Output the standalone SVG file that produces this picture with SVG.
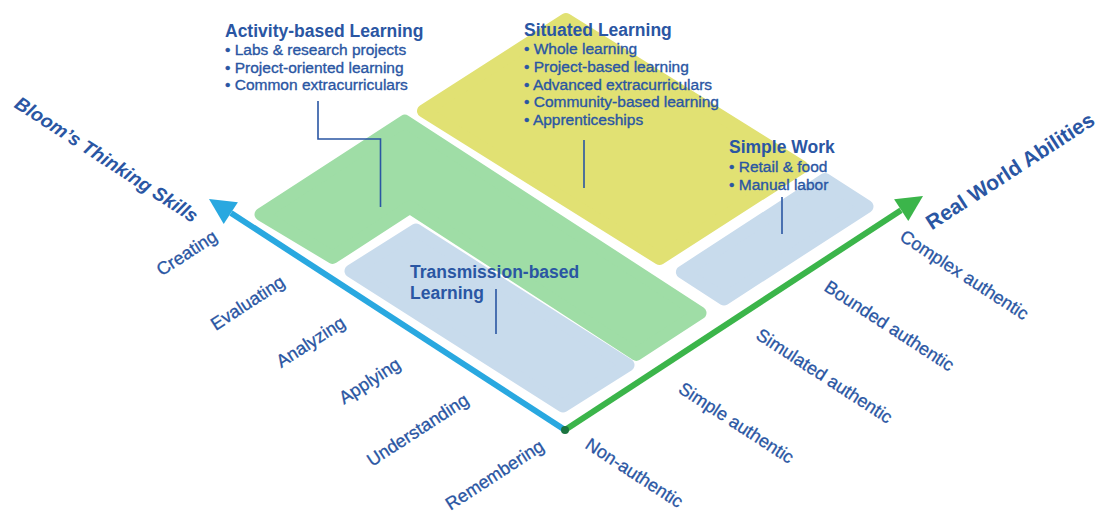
<svg xmlns="http://www.w3.org/2000/svg" width="1098" height="513" viewBox="0 0 1098 513">
<style>
.t{font-family:"Liberation Sans",Arial,sans-serif;fill:#2a56a3}
.h{font-size:17.5px;font-weight:bold}
.i{font-size:15.5px;stroke:#2a56a3;stroke-width:0.35}
.ax{font-size:18px;text-anchor:middle;stroke:#2a56a3;stroke-width:0.3}
.at{font-size:20px;font-weight:bold;text-anchor:middle}
.shape{stroke-linejoin:round;stroke-width:13}
.lead{fill:none;stroke:#2a56a3;stroke-width:1.6}
</style>
<rect width="1098" height="513" fill="#ffffff"/>
<g id="situated">
<polygon class="shape" fill="#e1e173" stroke="#e1e173" points="566,19.5 802,167 659.5,258.5 423.5,111"/>
<text class="t h" x="524" y="36">Situated Learning</text>
<text class="t i" x="524" y="54">• Whole learning</text>
<text class="t i" x="524" y="72">• Project-based learning</text>
<text class="t i" x="524" y="89.5">• Advanced extracurriculars</text>
<text class="t i" x="524" y="107">• Community-based learning</text>
<text class="t i" x="524" y="125">• Apprenticeships</text>
</g>
<g id="activity">
<polygon class="shape" fill="#9fdda6" stroke="#9fdda6" points="404.8,121.2 700,312.9 636.3,354.3 409.8,207.3 332.7,257.4 261,214.5"/>
<text class="t h" x="225" y="37">Activity-based Learning</text>
<text class="t i" x="225" y="55">• Labs &amp; research projects</text>
<text class="t i" x="225" y="72.5">• Project-oriented learning</text>
<text class="t i" x="225" y="90">• Common extracurriculars</text>
</g>
<g id="transmission">
<polygon class="shape" fill="#c8dbec" stroke="#c8dbec" points="416,230 628,365 563,406 351,271"/>
<text class="t h" x="410" y="278">Transmission-based</text>
<text class="t h" x="410" y="299">Learning</text>
</g>
<g id="simplework">
<polygon class="shape" fill="#c8dbec" stroke="#c8dbec" points="825,179.5 867,206.5 724,299 682.4,272.1"/>
<text class="t h" x="729" y="153">Simple Work</text>
<text class="t i" x="729" y="171.5">• Retail &amp; food</text>
<text class="t i" x="729" y="189.5">• Manual labor</text>
</g>
<g id="connectors">
<polyline class="lead" points="318,101 318,139 380.5,139 380.5,207"/>
<line class="lead" x1="584" y1="140" x2="584" y2="188"/>
<line class="lead" x1="782" y1="197" x2="782" y2="234"/>
<line class="lead" x1="496" y1="289" x2="496" y2="334"/>
</g>
<g id="axis-bloom">
<line x1="565" y1="430" x2="231" y2="213" stroke="#29a8e0" stroke-width="6"/>
<polygon fill="#29a8e0" points="209,199 237.9,202.3 223.7,224.1"/>
<text class="t at" font-size="19" style="font-size:19px" font-style="italic" transform="translate(103,165) rotate(33)">Bloom’s Thinking Skills</text>
<text class="t ax" transform="translate(190,258) rotate(-33)">Creating</text>
<text class="t ax" transform="translate(251,308) rotate(-33)">Evaluating</text>
<text class="t ax" transform="translate(314,347) rotate(-33)">Analyzing</text>
<text class="t ax" transform="translate(373,386) rotate(-33)">Applying</text>
<text class="t ax" transform="translate(421,435) rotate(-33)">Understanding</text>
<text class="t ax" transform="translate(498,480) rotate(-33)">Remembering</text>
</g>
<g id="axis-real">
<line x1="565" y1="430" x2="901" y2="210.2" stroke="#3bb54a" stroke-width="6"/>
<polygon fill="#3bb54a" points="923,196 908.3,221.1 894.1,199.3"/>
<text class="t at" style="font-size:21px" transform="translate(1014,177) rotate(-33)">Real World Abilities</text>
<text class="t ax" transform="translate(961,280) rotate(33)">Complex authentic</text>
<text class="t ax" transform="translate(886,331) rotate(33)">Bounded authentic</text>
<text class="t ax" transform="translate(821,381) rotate(33)">Simulated authentic</text>
<text class="t ax" transform="translate(733,428) rotate(33)">Simple authentic</text>
<text class="t ax" transform="translate(631,478) rotate(33)">Non-authentic</text>
</g>
<circle id="origin" cx="565" cy="430" r="4" fill="#1b7440"/>
</svg>
